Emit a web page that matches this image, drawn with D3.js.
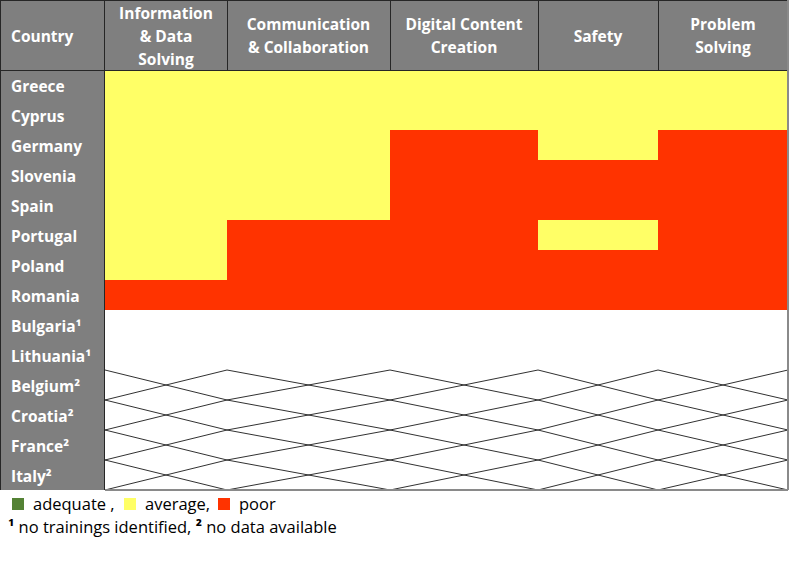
<!DOCTYPE html>
<html>
<head>
<meta charset="utf-8">
<script src="https://cdn.jsdelivr.net/npm/d3@7"></script>
<style>
  html, body { margin: 0; padding: 0; background: #fff; }
  svg { display: block; }
  text { font-family: "Open Sans", "DejaVu Sans", sans-serif; }
</style>
</head>
<body>
<svg id="chart" width="789" height="569"></svg>
<script>
// ---------- data ----------
const competences = ["Information & Data Solving", "Communication & Collaboration", "Digital Content Creation", "Safety", "Problem Solving"];
const headerLines = [["Information", "& Data", "Solving"], ["Communication", "& Collaboration"], ["Digital Content", "Creation"], ["Safety"], ["Problem", "Solving"]];
const countries = ["Greece", "Cyprus", "Germany", "Slovenia", "Spain", "Portugal", "Poland", "Romania", "Bulgaria", "Lithuania", "Belgium", "Croatia", "France", "Italy"];
const countryNotes = ["", "", "", "", "", "", "", "", "¹", "¹", "²", "²", "²", "²"];
// ratings per competence, for the rated countries (Greece … Romania)
const infoRatings    = ["average", "average", "average", "average", "average", "average", "average", "poor"];
const commRatings    = ["average", "average", "average", "average", "average", "poor", "poor", "poor"];
const contentRatings = ["average", "average", "poor", "poor", "poor", "poor", "poor", "poor"];
const safetyRatings  = ["average", "average", "average", "poor", "poor", "average", "poor", "poor"];
const problemRatings = ["average", "average", "poor", "poor", "poor", "poor", "poor", "poor"];
const noTrainingCountries = ["Bulgaria", "Lithuania"];
const noDataCountries = ["Belgium", "Croatia", "France", "Italy"];
const legendLabels = ["adequate", "average", "poor"];
const footnote = ["¹", " no trainings identified, ", "²", " no data available"];

// ---------- layout ----------
const tableLeft = 0, labelRight = 105, tableRight = 788;
const headerTop = 0, headerBottom = 70, tableBottom = 490;
const colEdges = [105, 227, 390, 538, 658, 788];
const gray = "#7f7f7f";
const fs = 15.5;

const ratingColor = d3.scaleOrdinal()
  .domain(legendLabels)
  .range(["#548235", "#ffff66", "#ff3300"]);

const x = d3.scaleOrdinal().domain(competences).range(colEdges.slice(0, 5));
const xRight = d3.scaleOrdinal().domain(competences).range(colEdges.slice(1));
const y = d3.scaleBand().domain(countries).range([headerBottom, tableBottom]);

const svg = d3.select("#chart");

// header background & label column
svg.append("rect").attr("x", tableLeft).attr("y", headerTop).attr("width", tableRight - tableLeft).attr("height", headerBottom - headerTop).attr("fill", gray);
svg.append("rect").attr("x", tableLeft).attr("y", headerBottom).attr("width", labelRight - tableLeft).attr("height", tableBottom - headerBottom).attr("fill", gray);

// rating cells
const ratingCols = [infoRatings, commRatings, contentRatings, safetyRatings, problemRatings];
const cells = [];
ratingCols.forEach((col, ci) => col.forEach((r, ri) => cells.push({ comp: competences[ci], country: countries[ri], rating: r })));
svg.append("g").selectAll("rect").data(cells).join("rect")
  .attr("x", d => x(d.comp))
  .attr("y", d => y(d.country))
  .attr("width", d => xRight(d.comp) - x(d.comp))
  .attr("height", y.bandwidth() + 0.5)
  .attr("fill", d => ratingColor(d.rating))
  .attr("shape-rendering", "crispEdges");

// no-training rows (white)
svg.append("g").selectAll("rect").data(noTrainingCountries).join("rect")
  .attr("x", labelRight).attr("y", d => y(d)).attr("width", tableRight - labelRight).attr("height", y.bandwidth())
  .attr("fill", "#fff");

// no-data rows: diagonal cross in each cell
const hatch = [];
noDataCountries.forEach(c => competences.forEach(k => hatch.push({ comp: k, country: c })));
const hg = svg.append("g").attr("stroke", "#1a1a1a").attr("stroke-width", 0.9).attr("fill", "none");
hg.selectAll("line.a").data(hatch).join("line").attr("class", "a")
  .attr("x1", d => x(d.comp)).attr("y1", d => y(d.country))
  .attr("x2", d => xRight(d.comp)).attr("y2", d => y(d.country) + y.bandwidth());
hg.selectAll("line.b").data(hatch).join("line").attr("class", "b")
  .attr("x1", d => x(d.comp)).attr("y1", d => y(d.country) + y.bandwidth())
  .attr("x2", d => xRight(d.comp)).attr("y2", d => y(d.country));

// borders
const dark = "#262626";
const bg = svg.append("g").attr("shape-rendering", "crispEdges");
bg.append("line").attr("x1", 0).attr("x2", tableRight).attr("y1", 0.5).attr("y2", 0.5).attr("stroke", dark);
bg.append("line").attr("x1", 0).attr("x2", tableRight).attr("y1", headerBottom).attr("y2", headerBottom).attr("stroke", dark);
bg.append("line").attr("x1", 0.5).attr("x2", 0.5).attr("y1", 0).attr("y2", tableBottom).attr("stroke", dark);
bg.append("line").attr("x1", labelRight - 0.5).attr("x2", labelRight - 0.5).attr("y1", 0).attr("y2", tableBottom).attr("stroke", dark);
bg.selectAll("line.sep").data(competences.slice(1)).join("line").attr("class", "sep")
  .attr("x1", d => x(d)).attr("x2", d => x(d)).attr("y1", 0).attr("y2", headerBottom).attr("stroke", dark);
bg.append("line").attr("x1", tableRight).attr("x2", tableRight).attr("y1", 0).attr("y2", tableBottom).attr("stroke", "#8a8a8a").attr("stroke-width", 1.5);
bg.append("line").attr("x1", labelRight).attr("x2", tableRight).attr("y1", tableBottom).attr("y2", tableBottom).attr("stroke", "#8a8a8a").attr("stroke-width", 1.5);

// header texts
svg.append("text").attr("x", 11).attr("y", 41.5).attr("fill", "#fff").attr("font-weight", "bold").attr("font-size", fs).text("Country");
const hdr = svg.append("g").selectAll("text").data(competences).join("text")
  .attr("fill", "#fff").attr("font-weight", "bold").attr("font-size", fs).attr("text-anchor", "middle")
  .attr("x", d => (x(d) + xRight(d)) / 2)
  .attr("y", (d, i) => 41.5 - (headerLines[i].length - 1) * 11.5);
hdr.selectAll("tspan").data((d, i) => headerLines[i]).join("tspan")
  .attr("x", function () { return d3.select(this.parentNode).attr("x"); })
  .attr("dy", (d, i) => i === 0 ? 0 : 23)
  .text(d => d);

// row labels
svg.append("g").selectAll("text").data(countries).join("text")
  .attr("x", 11).attr("y", d => y(d) + y.bandwidth() / 2 + 6.5)
  .attr("fill", "#fff").attr("font-weight", "bold").attr("font-size", fs)
  .text((d, i) => d + countryNotes[i]);

// legend
const leg = svg.append("g");
const legX = [12, 124, 218];
const legText = ["adequate ,", "average,", "poor"];
leg.selectAll("rect").data(legendLabels).join("rect")
  .attr("x", (d, i) => legX[i]).attr("y", 498).attr("width", 12).attr("height", 12)
  .attr("fill", d => ratingColor(d));
leg.selectAll("text").data(legendLabels).join("text")
  .attr("x", (d, i) => legX[i] + 21).attr("y", 510)
  .attr("font-size", 16.5).attr("fill", "#000")
  .text((d, i) => legText[i]);
const fn = svg.append("text").attr("x", 8).attr("y", 533).attr("font-size", 16.5).attr("fill", "#000");
fn.selectAll("tspan").data(footnote).join("tspan")
  .attr("font-weight", (d, i) => i % 2 === 0 ? "bold" : "normal")
  .text(d => d);
</script>
</body>
</html>
